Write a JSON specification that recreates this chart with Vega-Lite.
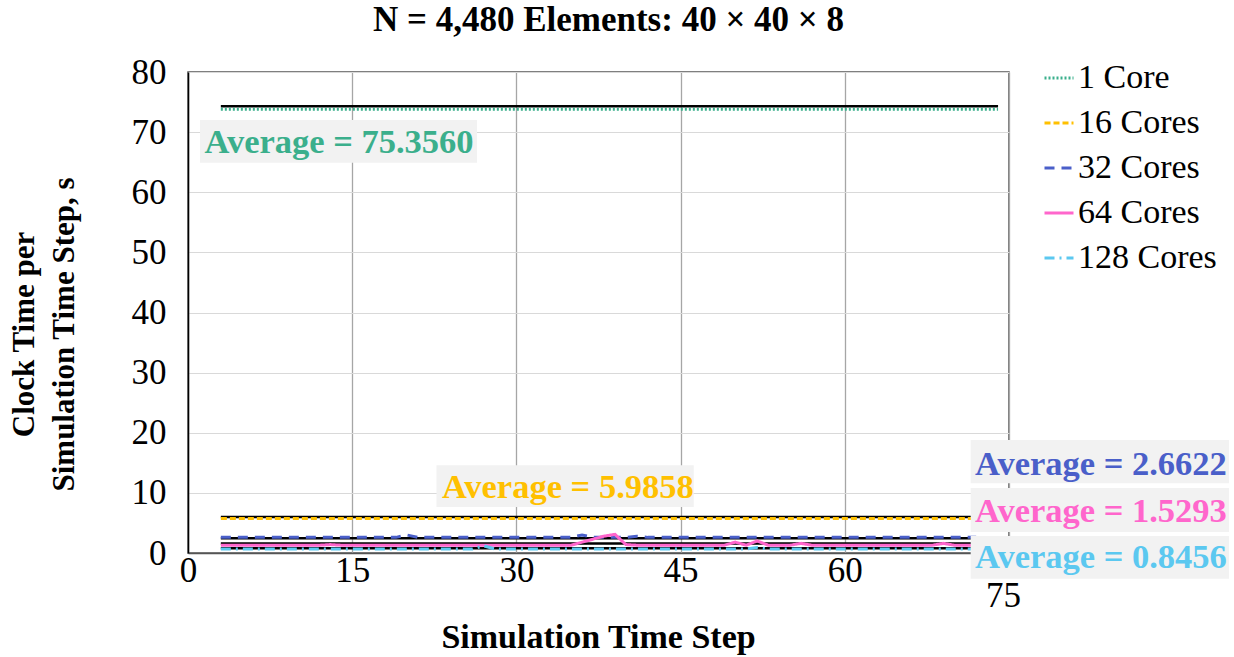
{
  "$schema": "https://vega.github.io/schema/vega-lite/v6.json",
  "width": 821,
  "height": 481,
  "autosize": {"type": "none"},
  "padding": {"left": 188, "top": 72, "right": 225, "bottom": 104},
  "background": "white",
  "title": {"text": "N = 4,480 Elements: 40 × 40 × 8", "font": "Liberation Serif", "fontSize": 35, "fontWeight": "bold", "color": "black", "anchor": "middle", "offset": 17, "dx": 10},
  "config": {
    "font": "Liberation Serif",
    "view": {"stroke": "#555", "strokeWidth": 1.5},
    "legend": {"orient": "none", "legendX": 854, "legendY": -11, "labelFont": "Liberation Serif", "labelFontSize": 34, "labelColor": "black", "symbolType": "stroke", "symbolSize": 841, "symbolStrokeWidth": 3, "rowPadding": 11, "labelOffset": 2, "padding": 0, "labelLimit": 300}
  },
  "datasets": {
    "series": [
      {"step": 3, "1 Core": 73.8, "16 Cores": 5.75, "32 Cores": 2.6, "64 Cores": 1.3, "128 Cores": 0.67},
      {"step": 4, "1 Core": 73.8, "16 Cores": 5.75, "32 Cores": 2.6, "64 Cores": 1.3, "128 Cores": 0.67},
      {"step": 5, "1 Core": 73.8, "16 Cores": 5.75, "32 Cores": 2.6, "64 Cores": 1.3, "128 Cores": 0.67},
      {"step": 6, "1 Core": 73.8, "16 Cores": 5.75, "32 Cores": 2.6, "64 Cores": 1.3, "128 Cores": 0.67},
      {"step": 7, "1 Core": 73.8, "16 Cores": 5.75, "32 Cores": 2.6, "64 Cores": 1.3, "128 Cores": 0.67},
      {"step": 8, "1 Core": 73.8, "16 Cores": 5.75, "32 Cores": 2.6, "64 Cores": 1.3, "128 Cores": 0.67},
      {"step": 9, "1 Core": 73.8, "16 Cores": 5.75, "32 Cores": 2.6, "64 Cores": 1.3, "128 Cores": 0.67},
      {"step": 10, "1 Core": 73.8, "16 Cores": 5.75, "32 Cores": 2.6, "64 Cores": 1.3, "128 Cores": 0.67},
      {"step": 11, "1 Core": 73.8, "16 Cores": 5.75, "32 Cores": 2.6, "64 Cores": 1.3, "128 Cores": 0.67},
      {"step": 12, "1 Core": 73.8, "16 Cores": 5.75, "32 Cores": 2.6, "64 Cores": 1.3, "128 Cores": 0.67},
      {"step": 13, "1 Core": 73.8, "16 Cores": 5.75, "32 Cores": 2.6, "64 Cores": 1.4, "128 Cores": 0.67},
      {"step": 14, "1 Core": 73.8, "16 Cores": 5.75, "32 Cores": 2.6, "64 Cores": 1.3, "128 Cores": 0.67},
      {"step": 15, "1 Core": 73.8, "16 Cores": 5.75, "32 Cores": 2.6, "64 Cores": 1.3, "128 Cores": 0.67},
      {"step": 16, "1 Core": 73.8, "16 Cores": 5.75, "32 Cores": 2.6, "64 Cores": 1.3, "128 Cores": 0.67},
      {"step": 17, "1 Core": 73.8, "16 Cores": 5.75, "32 Cores": 2.6, "64 Cores": 1.3, "128 Cores": 0.67},
      {"step": 18, "1 Core": 73.8, "16 Cores": 5.75, "32 Cores": 2.6, "64 Cores": 1.3, "128 Cores": 0.67},
      {"step": 19, "1 Core": 73.8, "16 Cores": 5.75, "32 Cores": 2.6, "64 Cores": 1.3, "128 Cores": 0.67},
      {"step": 20, "1 Core": 73.8, "16 Cores": 5.75, "32 Cores": 3.0, "64 Cores": 1.3, "128 Cores": 0.67},
      {"step": 21, "1 Core": 73.8, "16 Cores": 5.75, "32 Cores": 2.6, "64 Cores": 1.3, "128 Cores": 0.67},
      {"step": 22, "1 Core": 73.8, "16 Cores": 5.75, "32 Cores": 2.6, "64 Cores": 1.3, "128 Cores": 0.67},
      {"step": 23, "1 Core": 73.8, "16 Cores": 5.75, "32 Cores": 2.6, "64 Cores": 1.3, "128 Cores": 0.67},
      {"step": 24, "1 Core": 73.8, "16 Cores": 5.75, "32 Cores": 2.6, "64 Cores": 1.3, "128 Cores": 0.67},
      {"step": 25, "1 Core": 73.8, "16 Cores": 5.75, "32 Cores": 2.6, "64 Cores": 1.3, "128 Cores": 0.67},
      {"step": 26, "1 Core": 73.8, "16 Cores": 5.75, "32 Cores": 2.6, "64 Cores": 1.3, "128 Cores": 0.67},
      {"step": 27, "1 Core": 73.8, "16 Cores": 5.75, "32 Cores": 2.6, "64 Cores": 1.3, "128 Cores": 1.2},
      {"step": 28, "1 Core": 73.8, "16 Cores": 5.75, "32 Cores": 2.6, "64 Cores": 1.3, "128 Cores": 0.67},
      {"step": 29, "1 Core": 73.8, "16 Cores": 5.75, "32 Cores": 2.6, "64 Cores": 1.3, "128 Cores": 0.67},
      {"step": 30, "1 Core": 73.8, "16 Cores": 5.75, "32 Cores": 2.6, "64 Cores": 1.3, "128 Cores": 0.67},
      {"step": 31, "1 Core": 73.8, "16 Cores": 5.75, "32 Cores": 2.6, "64 Cores": 1.3, "128 Cores": 0.67},
      {"step": 32, "1 Core": 73.8, "16 Cores": 5.75, "32 Cores": 2.6, "64 Cores": 1.3, "128 Cores": 0.67},
      {"step": 33, "1 Core": 73.8, "16 Cores": 5.75, "32 Cores": 2.6, "64 Cores": 1.3, "128 Cores": 0.67},
      {"step": 34, "1 Core": 73.8, "16 Cores": 5.75, "32 Cores": 2.6, "64 Cores": 1.3, "128 Cores": 0.67},
      {"step": 35, "1 Core": 73.8, "16 Cores": 5.75, "32 Cores": 2.6, "64 Cores": 1.3, "128 Cores": 0.67},
      {"step": 36, "1 Core": 73.8, "16 Cores": 5.75, "32 Cores": 3.0, "64 Cores": 1.8, "128 Cores": 0.67},
      {"step": 37, "1 Core": 73.8, "16 Cores": 5.75, "32 Cores": 2.6, "64 Cores": 2.3, "128 Cores": 0.67},
      {"step": 38, "1 Core": 73.8, "16 Cores": 5.75, "32 Cores": 2.6, "64 Cores": 2.8, "128 Cores": 0.67},
      {"step": 39, "1 Core": 73.8, "16 Cores": 5.75, "32 Cores": 2.6, "64 Cores": 3.1, "128 Cores": 0.67},
      {"step": 40, "1 Core": 73.8, "16 Cores": 5.75, "32 Cores": 2.6, "64 Cores": 1.4, "128 Cores": 0.67},
      {"step": 41, "1 Core": 73.8, "16 Cores": 5.75, "32 Cores": 2.8, "64 Cores": 1.3, "128 Cores": 0.67},
      {"step": 42, "1 Core": 73.8, "16 Cores": 5.75, "32 Cores": 2.6, "64 Cores": 1.3, "128 Cores": 0.67},
      {"step": 43, "1 Core": 73.8, "16 Cores": 5.75, "32 Cores": 2.6, "64 Cores": 1.3, "128 Cores": 0.67},
      {"step": 44, "1 Core": 73.8, "16 Cores": 5.75, "32 Cores": 2.6, "64 Cores": 1.3, "128 Cores": 0.67},
      {"step": 45, "1 Core": 73.8, "16 Cores": 5.75, "32 Cores": 2.6, "64 Cores": 1.3, "128 Cores": 0.67},
      {"step": 46, "1 Core": 73.8, "16 Cores": 5.75, "32 Cores": 2.6, "64 Cores": 1.3, "128 Cores": 0.67},
      {"step": 47, "1 Core": 73.8, "16 Cores": 5.75, "32 Cores": 2.6, "64 Cores": 1.3, "128 Cores": 0.67},
      {"step": 48, "1 Core": 73.8, "16 Cores": 5.75, "32 Cores": 2.6, "64 Cores": 1.3, "128 Cores": 0.67},
      {"step": 49, "1 Core": 73.8, "16 Cores": 5.75, "32 Cores": 2.6, "64 Cores": 1.3, "128 Cores": 0.67},
      {"step": 50, "1 Core": 73.8, "16 Cores": 5.75, "32 Cores": 2.6, "64 Cores": 1.8, "128 Cores": 0.67},
      {"step": 51, "1 Core": 73.8, "16 Cores": 5.75, "32 Cores": 2.6, "64 Cores": 1.3, "128 Cores": 0.67},
      {"step": 52, "1 Core": 73.8, "16 Cores": 5.75, "32 Cores": 2.6, "64 Cores": 2.0, "128 Cores": 0.9},
      {"step": 53, "1 Core": 73.8, "16 Cores": 5.75, "32 Cores": 2.6, "64 Cores": 1.3, "128 Cores": 0.67},
      {"step": 54, "1 Core": 73.8, "16 Cores": 5.75, "32 Cores": 2.6, "64 Cores": 1.3, "128 Cores": 0.67},
      {"step": 55, "1 Core": 73.8, "16 Cores": 5.75, "32 Cores": 2.6, "64 Cores": 1.3, "128 Cores": 0.67},
      {"step": 56, "1 Core": 73.8, "16 Cores": 5.75, "32 Cores": 2.6, "64 Cores": 1.6, "128 Cores": 0.67},
      {"step": 57, "1 Core": 73.8, "16 Cores": 5.75, "32 Cores": 2.6, "64 Cores": 1.3, "128 Cores": 0.67},
      {"step": 58, "1 Core": 73.8, "16 Cores": 5.75, "32 Cores": 2.6, "64 Cores": 1.3, "128 Cores": 0.67},
      {"step": 59, "1 Core": 73.8, "16 Cores": 5.75, "32 Cores": 2.6, "64 Cores": 1.3, "128 Cores": 0.67},
      {"step": 60, "1 Core": 73.8, "16 Cores": 5.75, "32 Cores": 2.6, "64 Cores": 1.3, "128 Cores": 0.67},
      {"step": 61, "1 Core": 73.8, "16 Cores": 5.75, "32 Cores": 2.6, "64 Cores": 1.3, "128 Cores": 0.67},
      {"step": 62, "1 Core": 73.8, "16 Cores": 5.75, "32 Cores": 2.6, "64 Cores": 1.3, "128 Cores": 0.67},
      {"step": 63, "1 Core": 73.8, "16 Cores": 5.75, "32 Cores": 2.6, "64 Cores": 1.3, "128 Cores": 0.67},
      {"step": 64, "1 Core": 73.8, "16 Cores": 5.75, "32 Cores": 2.6, "64 Cores": 1.3, "128 Cores": 0.67},
      {"step": 65, "1 Core": 73.8, "16 Cores": 5.75, "32 Cores": 2.6, "64 Cores": 1.3, "128 Cores": 0.67},
      {"step": 66, "1 Core": 73.8, "16 Cores": 5.75, "32 Cores": 2.6, "64 Cores": 1.3, "128 Cores": 0.67},
      {"step": 67, "1 Core": 73.8, "16 Cores": 5.75, "32 Cores": 2.6, "64 Cores": 1.3, "128 Cores": 0.67},
      {"step": 68, "1 Core": 73.8, "16 Cores": 5.75, "32 Cores": 2.6, "64 Cores": 1.3, "128 Cores": 0.67},
      {"step": 69, "1 Core": 73.8, "16 Cores": 5.75, "32 Cores": 2.6, "64 Cores": 1.6, "128 Cores": 0.67},
      {"step": 70, "1 Core": 73.8, "16 Cores": 5.75, "32 Cores": 2.6, "64 Cores": 1.3, "128 Cores": 0.67},
      {"step": 71, "1 Core": 73.8, "16 Cores": 5.75, "32 Cores": 2.6, "64 Cores": 1.3, "128 Cores": 0.67},
      {"step": 72, "1 Core": 73.8, "16 Cores": 5.75, "32 Cores": 2.6, "64 Cores": 1.3, "128 Cores": 0.67},
      {"step": 73, "1 Core": 73.8},
      {"step": 74, "1 Core": 73.8}
    ],
    "averages": [
      {"series": "1 Core", "avg": 74.3, "from": 3, "to": 74},
      {"series": "16 Cores", "avg": 6.0, "from": 3, "to": 72},
      {"series": "32 Cores", "avg": 2.45, "from": 3, "to": 72},
      {"series": "64 Cores", "avg": 1.6, "from": 3, "to": 72},
      {"series": "128 Cores", "avg": 0.8, "from": 3, "to": 72}
    ],
    "notes": [
      {"series": "1 Core", "label": "Average = 75.3560", "x": 13.8, "y": 66.5, "left": 1.1, "right": 26.4, "bottom": 64.9, "top": 72.0},
      {"series": "16 Cores", "label": "Average = 5.9858", "x": 34.7, "y": 9.1, "left": 22.7, "right": 46.2, "bottom": 7.65, "top": 14.6},
      {"series": "32 Cores", "label": "Average = 2.6622", "x": 83.4, "y": 12.97, "left": 71.5, "right": 95.1, "bottom": 11.6, "top": 18.8},
      {"series": "64 Cores", "label": "Average = 1.5293", "x": 83.4, "y": 5.2, "left": 71.5, "right": 95.1, "bottom": 3.5, "top": 10.8},
      {"series": "128 Cores", "label": "Average = 0.8456", "x": 83.4, "y": -2.5, "left": 71.5, "right": 95.1, "bottom": -4.3, "top": 2.83}
    ]
  },
  "layer": [
    {
      "data": {"name": "averages"},
      "mark": {"type": "rule", "color": "black", "strokeWidth": 2.5},
      "encoding": {
        "x": {"field": "from", "type": "quantitative", "scale": {"domain": [0, 75], "nice": false, "zero": false},
          "axis": {"values": [0, 15, 30, 45, 60, 75], "grid": true, "gridColor": "#A6A6A6", "gridWidth": 1.3, "domainColor": "#555", "domainWidth": 1.5, "ticks": false, "labelFont": "Liberation Serif", "labelFontSize": 35, "labelColor": "black", "labelPadding": {"condition": {"test": "datum.value == 75", "value": 25}, "value": 0}, "labelOffset": {"condition": {"test": "datum.value == 75", "value": -6}, "value": 0}, "labelBaseline": "top", "labelFlush": false, "labelOverlap": false,
            "title": "Simulation Time Step", "titleFont": "Liberation Serif", "titleFontSize": 34, "titleFontWeight": "bold", "titleColor": "black", "titleX": 410, "titleY": 94, "titleBaseline": "alphabetic", "titleAlign": "center", "titleAnchor": null}},
        "x2": {"field": "to"},
        "y": {"field": "avg", "type": "quantitative", "scale": {"domain": [0, 80], "nice": false, "zero": false},
          "axis": {"values": [0, 10, 20, 30, 40, 50, 60, 70, 80], "grid": true, "gridColor": "#D9D9D9", "gridWidth": 1, "domainColor": "black", "domainWidth": 1.5, "ticks": false, "labelFont": "Liberation Serif", "labelFontSize": 35, "labelColor": "black", "labelPadding": 22, "labelFlush": false, "labelOverlap": false,
            "title": ["Clock Time per", "Simulation Time Step, s"], "titleFont": "Liberation Serif", "titleFontSize": 31, "titleFontWeight": "bold", "titleColor": "black", "titleX": -155, "titleY": 262, "titleBaseline": "alphabetic", "titleAlign": "center", "titleLineHeight": 40, "titleAngle": -90}}
      }
    },
    {
      "data": {"name": "series"},
      "transform": [
        {"fold": ["1 Core", "16 Cores", "32 Cores", "64 Cores", "128 Cores"], "as": ["series", "time"]},
        {"filter": "isValid(datum.time)"}
      ],
      "mark": {"type": "line", "strokeWidth": 3},
      "encoding": {
        "x": {"field": "step", "type": "quantitative"},
        "y": {"field": "time", "type": "quantitative"},
        "color": {"field": "series", "type": "nominal",
          "scale": {"domain": ["1 Core", "16 Cores", "32 Cores", "64 Cores", "128 Cores"], "range": ["#3BAF8C", "#FFC000", "#4A5FC9", "#FF66CC", "#5BC8F0"]},
          "legend": {"title": null, "labelFont": "Liberation Serif"}},
        "strokeDash": {"field": "series", "type": "nominal",
          "scale": {"domain": ["1 Core", "16 Cores", "32 Cores", "64 Cores", "128 Cores"], "range": [[2, 2], [6, 3], [10, 7], [1, 0], [10, 5, 2, 5]]},
          "legend": {"title": null, "labelFont": "Liberation Serif"}}
      }
    },
    {
      "data": {"name": "notes"},
      "mark": {"type": "rect", "fill": "#F2F2F2"},
      "encoding": {
        "x": {"field": "left", "type": "quantitative"},
        "x2": {"field": "right"},
        "y": {"field": "bottom", "type": "quantitative"},
        "y2": {"field": "top"}
      }
    },
    {
      "data": {"name": "notes"},
      "mark": {"type": "text", "font": "Liberation Serif", "fontSize": 34.5, "fontWeight": "bold", "align": "center", "baseline": "alphabetic"},
      "encoding": {
        "x": {"field": "x", "type": "quantitative"},
        "y": {"field": "y", "type": "quantitative"},
        "text": {"field": "label"},
        "color": {"field": "series", "type": "nominal", "legend": null}
      }
    }
  ]
}
